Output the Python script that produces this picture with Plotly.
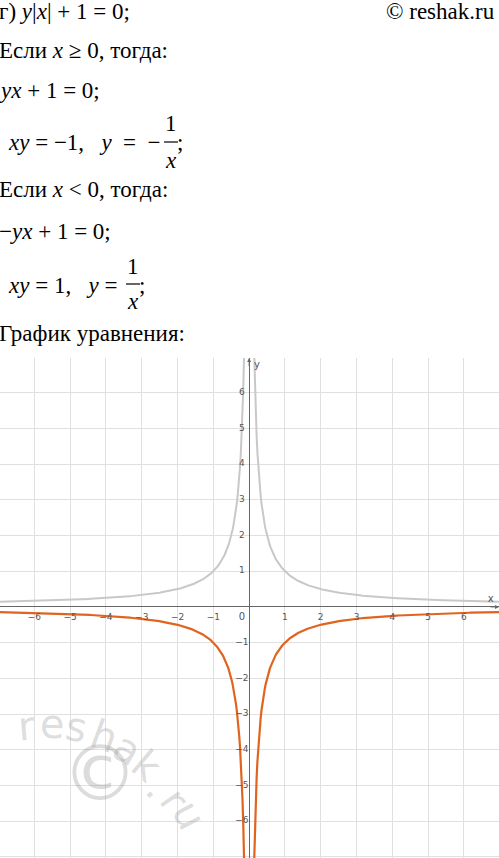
import numpy as np
import plotly.graph_objects as go

W, H = 499, 858
x_ticks = [-6, -5, -4, -3, -2, -1, 1, 2, 3, 4, 5, 6]
y_ticks = [-6, -5, -4, -3, -2, -1, 1, 2, 3, 4, 5, 6]
x_left = np.linspace(-7, -0.14, 300)
x_right = np.linspace(0.14, 7, 300)

fig = go.Figure()
grey = "#c8c8c8"
orange = "#e0641e"
for xs in (x_left, x_right):
    fig.add_trace(go.Scatter(x=xs, y=1/np.abs(xs), mode="lines", line=dict(color=grey, width=2), hoverinfo="skip"))
    fig.add_trace(go.Scatter(x=xs, y=-1/np.abs(xs), mode="lines", line=dict(color=orange, width=2.2), hoverinfo="skip"))

lab = "#555555"
fig.add_trace(go.Scatter(x=x_ticks, y=[-0.3]*len(x_ticks), mode="text", text=[str(v).replace("-", "−") for v in x_ticks],
                         textfont=dict(size=9, color=lab, family="DejaVu Sans"), hoverinfo="skip"))
fig.add_trace(go.Scatter(x=[-0.2]*len(y_ticks), y=y_ticks, mode="text", text=[str(v).replace("-", "−") for v in y_ticks],
                         textfont=dict(size=9, color=lab, family="DejaVu Sans"), hoverinfo="skip"))
fig.add_trace(go.Scatter(x=[-0.2, 6.75, 0.22], y=[-0.3, 0.22, 6.75], mode="text", text=["0", "x", "y"],
                         textfont=dict(size=10, color=lab, family="DejaVu Sans"), hoverinfo="skip"))

dom_top = 500/858
fig.update_layout(width=W, height=H, margin=dict(l=0, r=0, t=0, b=0), showlegend=False,
                  plot_bgcolor="white", paper_bgcolor="white",
                  xaxis=dict(range=[-6.96, 6.98], dtick=1, tick0=0, showgrid=True, gridcolor="#e0e0e0", gridwidth=1,
                             zeroline=True, zerolinecolor="#666", zerolinewidth=1, showticklabels=False, fixedrange=True),
                  yaxis=dict(range=[-7.03, 6.97], dtick=1, tick0=0, showgrid=True, gridcolor="#e0e0e0", gridwidth=1,
                             zeroline=True, zerolinecolor="#666", zerolinewidth=1, showticklabels=False,
                             domain=[0, dom_top], fixedrange=True))
fig.add_annotation(x=6.98, y=0, ax=6.7, ay=0, xref="x", yref="y", axref="x", ayref="y", text="", showarrow=True,
                   arrowhead=2, arrowsize=0.8, arrowwidth=1, arrowcolor="#666")
fig.add_annotation(x=0, y=6.97, ax=0, ay=6.7, xref="x", yref="y", axref="x", ayref="y", text="", showarrow=True,
                   arrowhead=2, arrowsize=0.8, arrowwidth=1, arrowcolor="#666")

F = "Liberation Serif"
def txt(px, py, s, size=23, xanchor="left"):
    if xanchor == "left":
        px -= 3
    fig.add_annotation(x=px/W, y=1-py/H, xref="paper", yref="paper", text=s, showarrow=False,
                       xanchor=xanchor, yanchor="middle", font=dict(family=F, size=size, color="black"))

sp = "&nbsp;"
txt(0, 12, "г) <i>y</i>|<i>x</i>| + 1 = 0;")
txt(497, 12, "© reshak.ru", xanchor="right")
txt(0, 50, "Если <i>x</i> ≥ 0, тогда:")
txt(0, 90, "<i>yx</i> + 1 = 0;")
txt(163, 143, f"<i>xy</i> = −1,{sp}  <i>y</i>{sp} = {sp}−", xanchor="right")
txt(171, 124, "1", xanchor="center")
txt(171, 160, "<i>x</i>", xanchor="center")
txt(178, 143, ";")
txt(0, 190, "Если <i>x</i> &lt; 0, тогда:")
txt(0, 232, "−<i>yx</i> + 1 = 0;")
txt(125, 285, f"<i>xy</i> = 1,{sp}  <i>y</i> = ", xanchor="right")
txt(133, 266, "1", xanchor="center")
txt(133, 302, "<i>x</i>", xanchor="center")
txt(140, 285, ";")
txt(0, 333, "График уравнения:")
for (x0, x1, py) in [(164, 178, 142), (126, 140, 284)]:
    fig.add_shape(type="line", xref="paper", yref="paper", x0=x0/W, x1=x1/W, y0=1-py/H, y1=1-py/H,
                  line=dict(color="black", width=1.2))

# watermark
wm = "rgba(140,140,140,0.3)"
letters = ["r", "e", "s", "h", "a", "k", ".", "r", "u"]
lx = [14, 37, 60, 82, 102, 120, 134, 148, 160]
ly = [752, 749, 754, 764, 778, 794, 810, 823, 840]
la = [-5, 2, 10, 20, 30, 40, 48, 55, 62]
for c, px, py, a in zip(letters, lx, ly, la):
    fig.add_annotation(x=px/W, y=1-py/H, xref="paper", yref="paper", text=c, showarrow=False, textangle=a,
                       font=dict(family="DejaVu Sans", size=40, color=wm))
fig.add_annotation(x=60/W, y=1-820/H, xref="paper", yref="paper", text="©", showarrow=False,
                   font=dict(family="DejaVu Sans", size=76, color=wm))

fig.write_html("out.html", config={"displayModeBar": False},
               post_script="document.body.style.margin='0';document.body.style.overflow='hidden';")
